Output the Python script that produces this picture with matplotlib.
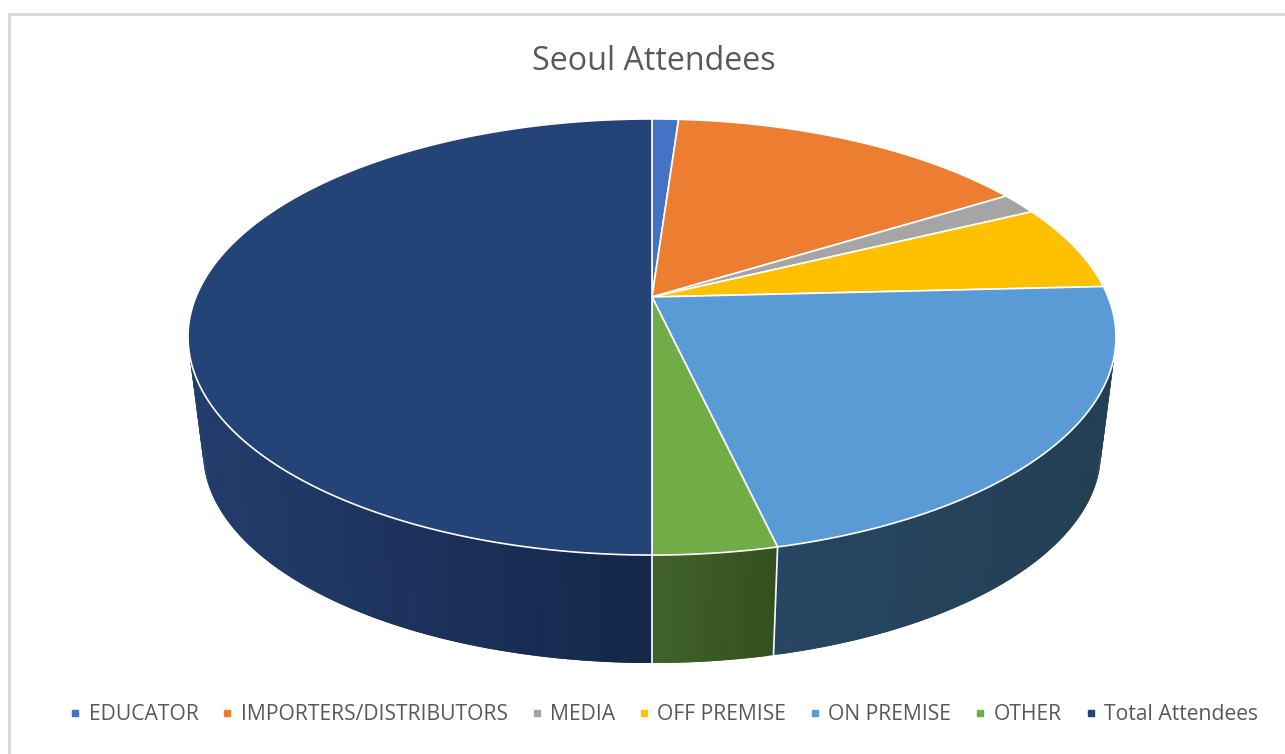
import numpy as np
import matplotlib
matplotlib.use('Agg')
import matplotlib.pyplot as plt
from matplotlib.colors import to_rgb
from matplotlib.lines import Line2D

categories = ['EDUCATOR', 'IMPORTERS/DISTRIBUTORS', 'MEDIA', 'OFF PREMISE',
              'ON PREMISE', 'OTHER', 'Total Attendees']
values = [1.1, 15.1, 1.6, 6.4, 22.17, 3.63, 50.0]
colors = ['#4472c4', '#ed7d31', '#a5a5a5', '#ffc000', '#5b9bd5', '#70ad47', '#244377']
# wall shading, left and right end of each visible side
side_left = {'ON PREMISE': '#264661', 'OTHER': '#41622a', 'Total Attendees': '#233d6c'}
side_right = {'ON PREMISE': '#233f54', 'OTHER': '#344f1f', 'Total Attendees': '#15264a'}

plt.rcParams['font.family'] = ['Open Sans', 'DejaVu Sans']

# perspective of the disc, in pixels
cx = 652
apex_y = 297
k = 0.1835
sx = 456.1
sy = 210.7
wall_scale = 449 / 464
wall_apex_y = 413.3


def project(theta, scale=1.0, y0=apex_y):
    # theta runs clockwise from north
    x, y = np.sin(theta), np.cos(theta)
    w = 1 + k * y
    return cx + scale * sx * x / w, y0 - scale * sy * y / w


fig = plt.figure(figsize=(12.85, 7.54), dpi=100)
ax = fig.add_axes([0, 0, 1, 1])
ax.set_xlim(0, 1285)
ax.set_ylim(754, 0)
ax.axis('off')

# chart frame
ax.plot([9, 9, 1285], [754, 14, 14], c='#d9d9d9', lw=2.2, solid_joinstyle='miter')

fractions = np.array(values) / np.sum(values)
edges = np.concatenate([[0], np.cumsum(fractions)]) * 2 * np.pi

# side wall, cut in thin overlapping strips for the shading
for i, name in enumerate(categories):
    start, end = max(edges[i], np.pi / 2 - 0.1), edges[i + 1]
    if name not in side_left or end <= start:
        continue
    t = np.linspace(start, end, int((end - start) * 90) + 3)
    tx, ty = project(t)
    bx, by = project(t, wall_scale, wall_apex_y)
    c0, c1 = np.array(to_rgb(side_left[name])), np.array(to_rgb(side_right[name]))
    x_lo, x_hi = tx.min(), tx.max()
    for j in range(len(t) - 2):
        f = (tx[j + 1] - x_lo) / (x_hi - x_lo)
        col = c0 + (c1 - c0) * f
        ax.fill([tx[j], tx[j + 1], tx[j + 2], bx[j + 2], bx[j + 1], bx[j]],
                [ty[j], ty[j + 1], ty[j + 2], by[j + 2], by[j + 1], by[j]],
                color=col, lw=0, zorder=2)

# white seams between the visible sides
for e in edges[5:7]:
    tx, ty = project(e)
    bx, by = project(e, wall_scale, wall_apex_y)
    ax.plot([tx, bx], [ty, by], c='white', lw=1.2, zorder=3)

# top face
for i, name in enumerate(categories):
    t = np.linspace(edges[i], edges[i + 1], int((edges[i + 1] - edges[i]) * 120) + 2)
    x, y = project(t)
    ax.fill(np.r_[cx, x], np.r_[apex_y, y], facecolor=colors[i], edgecolor='white',
            lw=1.2, joinstyle='round', zorder=4)

ax.text(654, 62, 'Seoul Attendees', ha='center', va='center', fontsize=23.2,
        color='#595959')

handles = [Line2D([], [], ls='none', marker='s', ms=5, mfc=c, mec=c) for c in colors]
ax.legend(handles, categories, loc='center', bbox_to_anchor=(664 / 1285, 1 - 715 / 754),
          ncol=7, frameon=False, fontsize=15.2, labelcolor='#595959', handlelength=0.5,
          handletextpad=0.38, columnspacing=1.12, borderpad=0)

fig.savefig('out.png', dpi=100)
